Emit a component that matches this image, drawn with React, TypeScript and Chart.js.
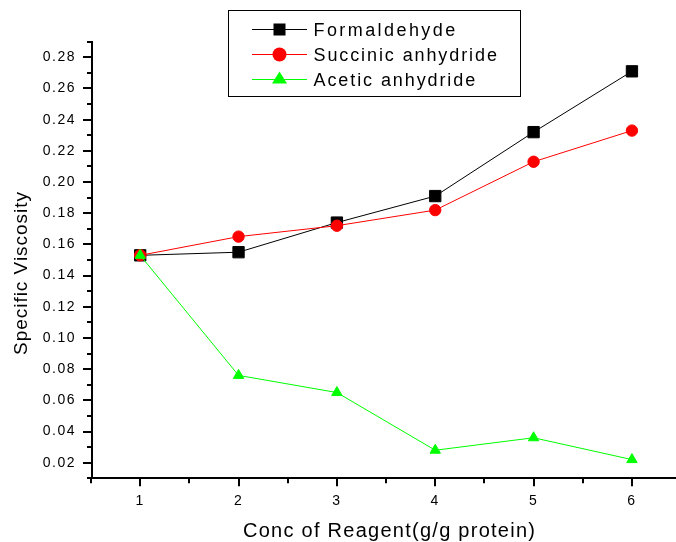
import React, { useEffect, useRef } from 'react';
import { Chart, registerables } from 'chart.js';

Chart.register(...registerables);

const X_VALUES = [1, 2, 3, 4, 5, 6];
const FORMALDEHYDE = [0.153, 0.155, 0.174, 0.191, 0.232, 0.271];
const SUCCINIC = [0.153, 0.165, 0.172, 0.182, 0.213, 0.233];
const ACETIC = [0.153, 0.076, 0.065, 0.028, 0.036, 0.022];
const SERIES_NAMES = ['Formaldehyde', 'Succinic anhydride', 'Acetic anhydride'];
const SERIES_COLORS = ['#000000', '#ff0000', '#00ff00'];

const Y_TICKS = [0.02, 0.04, 0.06, 0.08, 0.1, 0.12, 0.14, 0.16, 0.18, 0.2, 0.22, 0.24, 0.26, 0.28];
const Y_TICK_LABELS = ['0.02', '0.04', '0.06', '0.08', '0.10', '0.12', '0.14', '0.16', '0.18', '0.20', '0.22', '0.24', '0.26', '0.28'];
const Y_MINOR = [0.01, 0.03, 0.05, 0.07, 0.09, 0.11, 0.13, 0.15, 0.17, 0.19, 0.21, 0.23, 0.25, 0.27, 0.29];
const X_TICKS = [1, 2, 3, 4, 5, 6];
const X_TICK_LABELS = ['1', '2', '3', '4', '5', '6'];
const X_MINOR = [0.5, 1.5, 2.5, 3.5, 4.5, 5.5, 6.5];

const X_TITLE = 'Conc of Reagent(g/g protein)';
const Y_TITLE = 'Specific Viscosity';

const FONT_FAMILY = '"Liberation Sans", Arial, Helvetica, sans-serif';

function drawSpaced(ctx: CanvasRenderingContext2D, text: string, font: string, x: number, y: number, target: number) {
  ctx.font = font;
  (ctx as any).letterSpacing = '0px';
  const w = ctx.measureText(text).width;
  const ls = (target - w) / Math.max(1, text.length - 1);
  (ctx as any).letterSpacing = ls + 'px';
  ctx.textAlign = 'left';
  ctx.textBaseline = 'alphabetic';
  ctx.fillText(text, x, y);
}

const decorPlugin = {
  id: 'decor',
  beforeLayout(chart: any) {
    chart.ctx.letterSpacing = '1.5px';
  },
  beforeDraw(chart: any) {
    chart.ctx.letterSpacing = '1.5px';
  },
  afterDraw(chart: any) {
    const ctx: CanvasRenderingContext2D = chart.ctx;
    const xs = chart.scales.x;
    const ys = chart.scales.y;
    const left = chart.chartArea.left;
    const bottom = chart.chartArea.bottom;
    ctx.save();
    ctx.strokeStyle = '#000';
    ctx.lineWidth = 2;
    ctx.beginPath();
    Y_TICKS.forEach((v) => {
      const p = Math.round(ys.getPixelForValue(v));
      ctx.moveTo(left - 9, p);
      ctx.lineTo(left, p);
    });
    Y_MINOR.forEach((v) => {
      const p = Math.round(ys.getPixelForValue(v));
      ctx.moveTo(left - 5, p);
      ctx.lineTo(left, p);
    });
    X_TICKS.forEach((v) => {
      const p = Math.round(xs.getPixelForValue(v));
      ctx.moveTo(p, bottom);
      ctx.lineTo(p, bottom + 8);
    });
    X_MINOR.forEach((v) => {
      const p = Math.round(xs.getPixelForValue(v));
      ctx.moveTo(p, bottom);
      ctx.lineTo(p, bottom + 5);
    });
    ctx.stroke();

    ctx.fillStyle = '#000';
    drawSpaced(ctx, X_TITLE, '20px ' + FONT_FAMILY, 243, 537, 292);
    ctx.save();
    ctx.translate(27, 355);
    ctx.rotate(-Math.PI / 2);
    drawSpaced(ctx, Y_TITLE, '19px ' + FONT_FAMILY, 0, 0, 163);
    ctx.restore();

    (ctx as any).letterSpacing = '0px';
    ctx.lineWidth = 1;
    ctx.strokeStyle = '#000';
    ctx.strokeRect(228.5, 10.5, 292, 86);
    const rows = [29.5, 54.5, 79.5];
    const targets = [141.7, 183.4, 161.7];
    SERIES_NAMES.forEach((name, i) => {
      const y = rows[i];
      const c = SERIES_COLORS[i];
      ctx.strokeStyle = c;
      ctx.lineWidth = 1;
      ctx.beginPath();
      ctx.moveTo(252, y);
      ctx.lineTo(307, y);
      ctx.stroke();
      ctx.fillStyle = c;
      const mx = 279.5;
      if (i === 0) {
        ctx.fillRect(mx - 6, y - 6, 12, 12);
      } else if (i === 1) {
        ctx.beginPath();
        ctx.arc(mx, y, 7, 0, Math.PI * 2);
        ctx.fill();
      } else {
        ctx.beginPath();
        ctx.moveTo(mx, y - 8);
        ctx.lineTo(mx + 7.5, y + 4);
        ctx.lineTo(mx - 7.5, y + 4);
        ctx.closePath();
        ctx.fill();
      }
      ctx.fillStyle = '#000';
      drawSpaced(ctx, name, '18px ' + FONT_FAMILY, 313.5, y + 6.5, targets[i]);
    });
    ctx.restore();
    (ctx as any).letterSpacing = '1.5px';
  },
};

function toPoints(values: number[]) {
  return X_VALUES.map((x, i) => ({ x, y: values[i] }));
}

export default function App() {
  const ref = useRef<HTMLCanvasElement | null>(null);
  useEffect(() => {
    if (!ref.current) return;
    const tickFont = { family: FONT_FAMILY, size: 14 };
    const chart = new Chart(ref.current, {
      type: 'line',
      data: {
        datasets: [
          {
            label: SERIES_NAMES[0],
            data: toPoints(FORMALDEHYDE),
            borderColor: SERIES_COLORS[0],
            backgroundColor: SERIES_COLORS[0],
            borderWidth: 1,
            pointStyle: 'rect',
            pointRadius: 8,
            pointBorderWidth: 1,
            pointBackgroundColor: SERIES_COLORS[0],
            pointBorderColor: SERIES_COLORS[0],
            tension: 0,
            order: 2,
          },
          {
            label: SERIES_NAMES[1],
            data: toPoints(SUCCINIC),
            borderColor: SERIES_COLORS[1],
            backgroundColor: SERIES_COLORS[1],
            borderWidth: 1,
            pointStyle: 'circle',
            pointRadius: 5.7,
            pointBorderWidth: 1,
            pointBackgroundColor: SERIES_COLORS[1],
            pointBorderColor: SERIES_COLORS[1],
            tension: 0,
            order: 1,
          },
          {
            label: SERIES_NAMES[2],
            data: toPoints(ACETIC),
            borderColor: SERIES_COLORS[2],
            backgroundColor: SERIES_COLORS[2],
            borderWidth: 1,
            pointStyle: 'triangle',
            pointRadius: 6,
            pointBorderWidth: 1,
            pointBackgroundColor: SERIES_COLORS[2],
            pointBorderColor: SERIES_COLORS[2],
            tension: 0,
            order: 0,
          },
        ],
      },
      options: {
        animation: false,
        responsive: false,
        devicePixelRatio: 1,
        layout: { autoPadding: false, padding: { top: 41.7, left: 0, right: 0, bottom: 0 } },
        plugins: { legend: { display: false }, tooltip: { enabled: false } },
        scales: {
          x: {
            type: 'linear',
            min: 0.51,
            max: 6.448,
            afterBuildTicks: (s: any) => {
              s.ticks = X_TICKS.map((v) => ({ value: v }));
            },
            afterFit: (s: any) => {
              s.height = 63.7;
              s.paddingLeft = 0;
              s.paddingRight = 0;
            },
            grid: { display: true, drawOnChartArea: false, drawTicks: true, tickLength: 8, tickColor: 'rgba(0,0,0,0)' },
            border: { display: true, color: '#000', width: 2 },
            ticks: {
              autoSkip: false,
              maxRotation: 0,
              padding: 6,
              color: '#000',
              font: tickFont,
              callback: (_v: any, i: number) => X_TICK_LABELS[i],
            },
          },
          y: {
            type: 'linear',
            min: 0.01,
            max: 0.29,
            afterBuildTicks: (s: any) => {
              s.ticks = Y_TICKS.map((v) => ({ value: v }));
            },
            afterFit: (s: any) => {
              s.width = 92;
              s.paddingTop = 0;
              s.paddingBottom = 0;
            },
            grid: { display: true, drawOnChartArea: false, drawTicks: true, tickLength: 9, tickColor: 'rgba(0,0,0,0)' },
            border: { display: true, color: '#000', width: 2 },
            ticks: {
              autoSkip: false,
              padding: 7,
              color: '#000',
              font: tickFont,
              callback: (_v: any, i: number) => Y_TICK_LABELS[i],
            },
          },
        },
      } as any,
      plugins: [decorPlugin],
    });
    return () => chart.destroy();
  }, []);
  return (
    <div style={{ position: 'absolute', left: 0, top: 0, width: 676, height: 542, background: '#fff' }}>
      <canvas ref={ref} width={676} height={542} style={{ display: 'block' }} />
    </div>
  );
}
